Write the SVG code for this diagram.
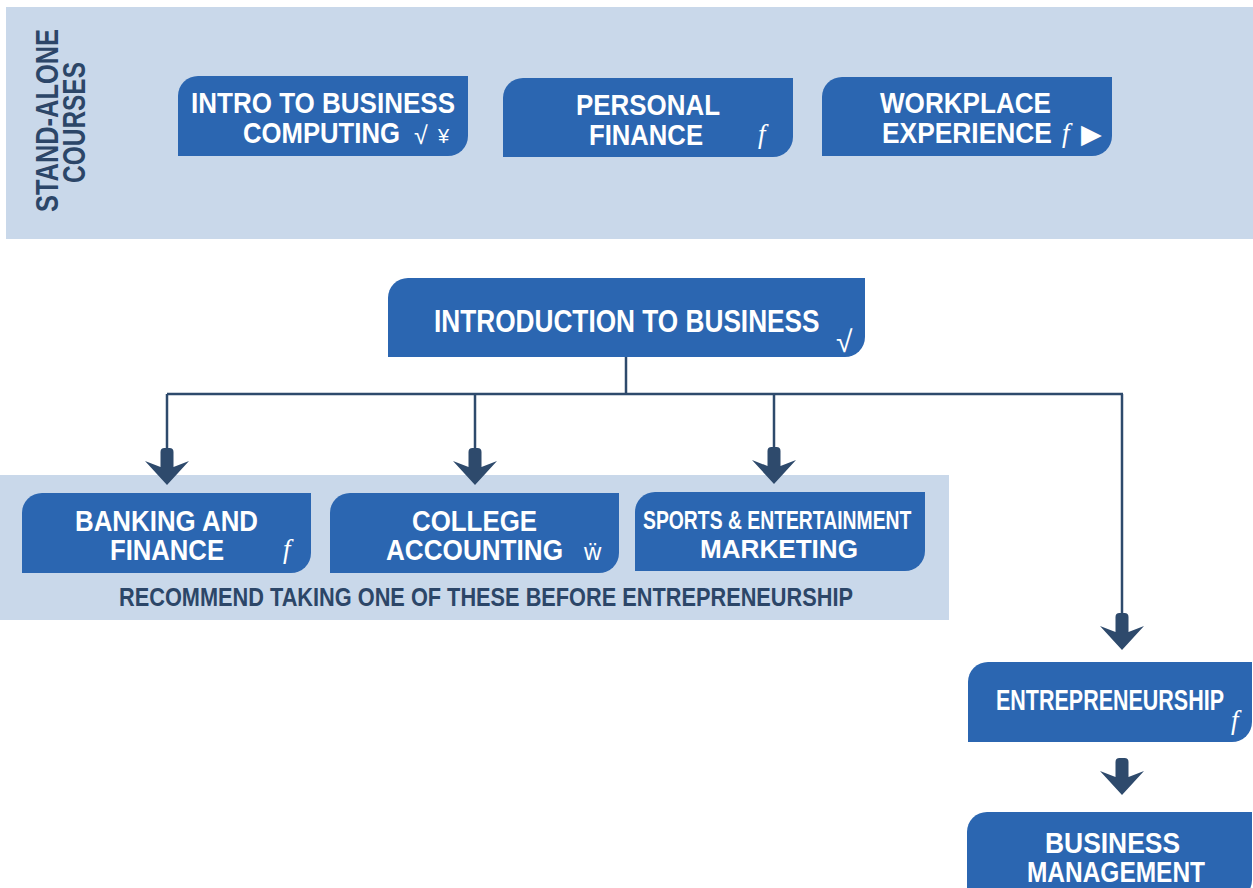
<svg xmlns="http://www.w3.org/2000/svg" width="1253" height="888" viewBox="0 0 1253 888">
<defs>
<style>
.band{fill:#c9d8ea}
.box{fill:#2b66b1}
.t{font-family:"Liberation Sans",Arial,sans-serif;font-weight:bold;font-size:29px;fill:#ffffff}
.sym{font-family:"Liberation Sans","DejaVu Sans",sans-serif;font-weight:normal;font-size:22px;fill:#ffffff}
.tri{font-family:"DejaVu Sans",sans-serif;font-weight:normal;font-size:27px;fill:#ffffff}
.ff{font-family:"Liberation Serif","Times New Roman",serif;font-style:italic;font-weight:normal;font-size:27px;fill:#ffffff}
.dark{font-family:"Liberation Sans",Arial,sans-serif;font-weight:bold;fill:#2c4668}
.line{stroke:#2e4a6c;stroke-width:2.5;fill:none}
.arr{fill:#2e4a6c}
</style>
<path id="fat" d="M-6.5,-33 Q-6.5,-37 -2.5,-37 L2.5,-37 Q6.5,-37 6.5,-33 L6.5,-18 L22,-24 L0,0 L-22,-24 L-6.5,-18 Z"/>
</defs>

<g id="bands">
<rect class="band" x="6" y="7" width="1247" height="232"/>
<rect class="band" x="0" y="475" width="949" height="145"/>
</g>

<g id="standalone-label">
<text class="dark" font-size="31" text-anchor="middle" transform="translate(58,120.5) rotate(-90) scale(0.82,1)">STAND-ALONE</text>
<text class="dark" font-size="31" text-anchor="middle" transform="translate(85,122.5) rotate(-90) scale(0.789,1)">COURSES</text>
</g>

<g id="connectors">
<line class="line" x1="626" y1="357" x2="626" y2="394"/>
<line class="line" x1="167" y1="394" x2="1123" y2="394"/>
<line class="line" x1="167" y1="394" x2="167" y2="450"/>
<line class="line" x1="475" y1="394" x2="475" y2="450"/>
<line class="line" x1="774" y1="394" x2="774" y2="450"/>
<line class="line" x1="1122" y1="394" x2="1122" y2="615"/>
<use href="#fat" class="arr" x="167" y="485"/>
<use href="#fat" class="arr" x="475" y="485"/>
<use href="#fat" class="arr" x="774" y="484"/>
<use href="#fat" class="arr" x="1122" y="650"/>
<use href="#fat" class="arr" x="1122" y="795"/>
</g>

<g id="intro-business-computing">
<path class="box" d="M178,96 A20,20 0 0 1 198,76 H468 V136 A20,20 0 0 1 448,156 H178 Z"/>
<text class="t" x="191" y="113" textLength="264" lengthAdjust="spacingAndGlyphs">INTRO TO BUSINESS</text>
<text class="t" transform="translate(243,143) scale(0.886,1)">COMPUTING</text>
<text class="sym" x="414" y="144" style="font-size:25px">√</text>
<text class="sym" x="438" y="143" style="font-size:20px">¥</text>
</g>

<g id="personal-finance">
<path class="box" d="M503,98 A20,20 0 0 1 523,78 H793 V137 A20,20 0 0 1 773,157 H503 Z"/>
<text class="t" x="576" y="115" textLength="144" lengthAdjust="spacingAndGlyphs">PERSONAL</text>
<text class="t" x="589" y="145" textLength="114" lengthAdjust="spacingAndGlyphs">FINANCE</text>
<text class="ff" x="758" y="143">f</text>
</g>

<g id="workplace-experience">
<path class="box" d="M822,97 A20,20 0 0 1 842,77 H1112 V136 A20,20 0 0 1 1092,156 H822 Z"/>
<text class="t" x="880" y="113" textLength="171" lengthAdjust="spacingAndGlyphs">WORKPLACE</text>
<text class="t" transform="translate(882,143) scale(0.9095,1)">EXPERIENCE</text>
<text class="ff" x="1062" y="142">f</text>
<text class="tri" x="1081" y="143">▶</text>
</g>

<g id="introduction-to-business">
<path class="box" d="M388,298 A20,20 0 0 1 408,278 H865 V337 A20,20 0 0 1 845,357 H388 Z"/>
<text class="t" transform="translate(434,332) scale(0.8195,1)" style="font-size:32px">INTRODUCTION TO BUSINESS</text>
<text class="sym" x="836" y="352" style="font-size:30px">√</text>
</g>

<g id="banking-finance">
<path class="box" d="M22,513 A20,20 0 0 1 42,493 H311 V553 A20,20 0 0 1 291,573 H22 Z"/>
<text class="t" x="75" y="531" textLength="183" lengthAdjust="spacingAndGlyphs">BANKING AND</text>
<text class="t" x="110" y="560" textLength="114" lengthAdjust="spacingAndGlyphs">FINANCE</text>
<text class="ff" x="283" y="558">f</text>
</g>

<g id="college-accounting">
<path class="box" d="M330,513 A20,20 0 0 1 350,493 H619 V553 A20,20 0 0 1 599,573 H330 Z"/>
<text class="t" x="412" y="531" textLength="125" lengthAdjust="spacingAndGlyphs">COLLEGE</text>
<text class="t" x="386" y="560" textLength="177" lengthAdjust="spacingAndGlyphs">ACCOUNTING</text>
<text class="sym" x="584" y="560" style="font-size:24px">ẅ</text>
</g>

<g id="sports-entertainment-marketing">
<path class="box" d="M635,512 A20,20 0 0 1 655,492 H925 V551 A20,20 0 0 1 905,571 H635 Z"/>
<text class="t" transform="translate(643,529) scale(0.7446,1)" style="font-size:26px">SPORTS &amp; ENTERTAINMENT</text>
<text class="t" x="700" y="558" style="font-size:26px" textLength="158" lengthAdjust="spacingAndGlyphs">MARKETING</text>
</g>

<g id="recommend-note">
<text class="dark" x="119" y="606" font-size="25" textLength="734" lengthAdjust="spacingAndGlyphs">RECOMMEND TAKING ONE OF THESE BEFORE ENTREPRENEURSHIP</text>
</g>

<g id="entrepreneurship">
<path class="box" d="M968,682 A20,20 0 0 1 988,662 H1252 V722 A20,20 0 0 1 1232,742 H968 Z"/>
<text class="t" transform="translate(996,710) scale(0.741,1)">ENTREPRENEURSHIP</text>
<text class="ff" x="1231" y="729">f</text>
</g>

<g id="business-management">
<path class="box" d="M967,832 A20,20 0 0 1 987,812 H1252 V880 A20,20 0 0 1 1232,900 H967 Z"/>
<text class="t" x="1045" y="853" textLength="135" lengthAdjust="spacingAndGlyphs">BUSINESS</text>
<text class="t" x="1027" y="882" textLength="178" lengthAdjust="spacingAndGlyphs">MANAGEMENT</text>
</g>
</svg>
